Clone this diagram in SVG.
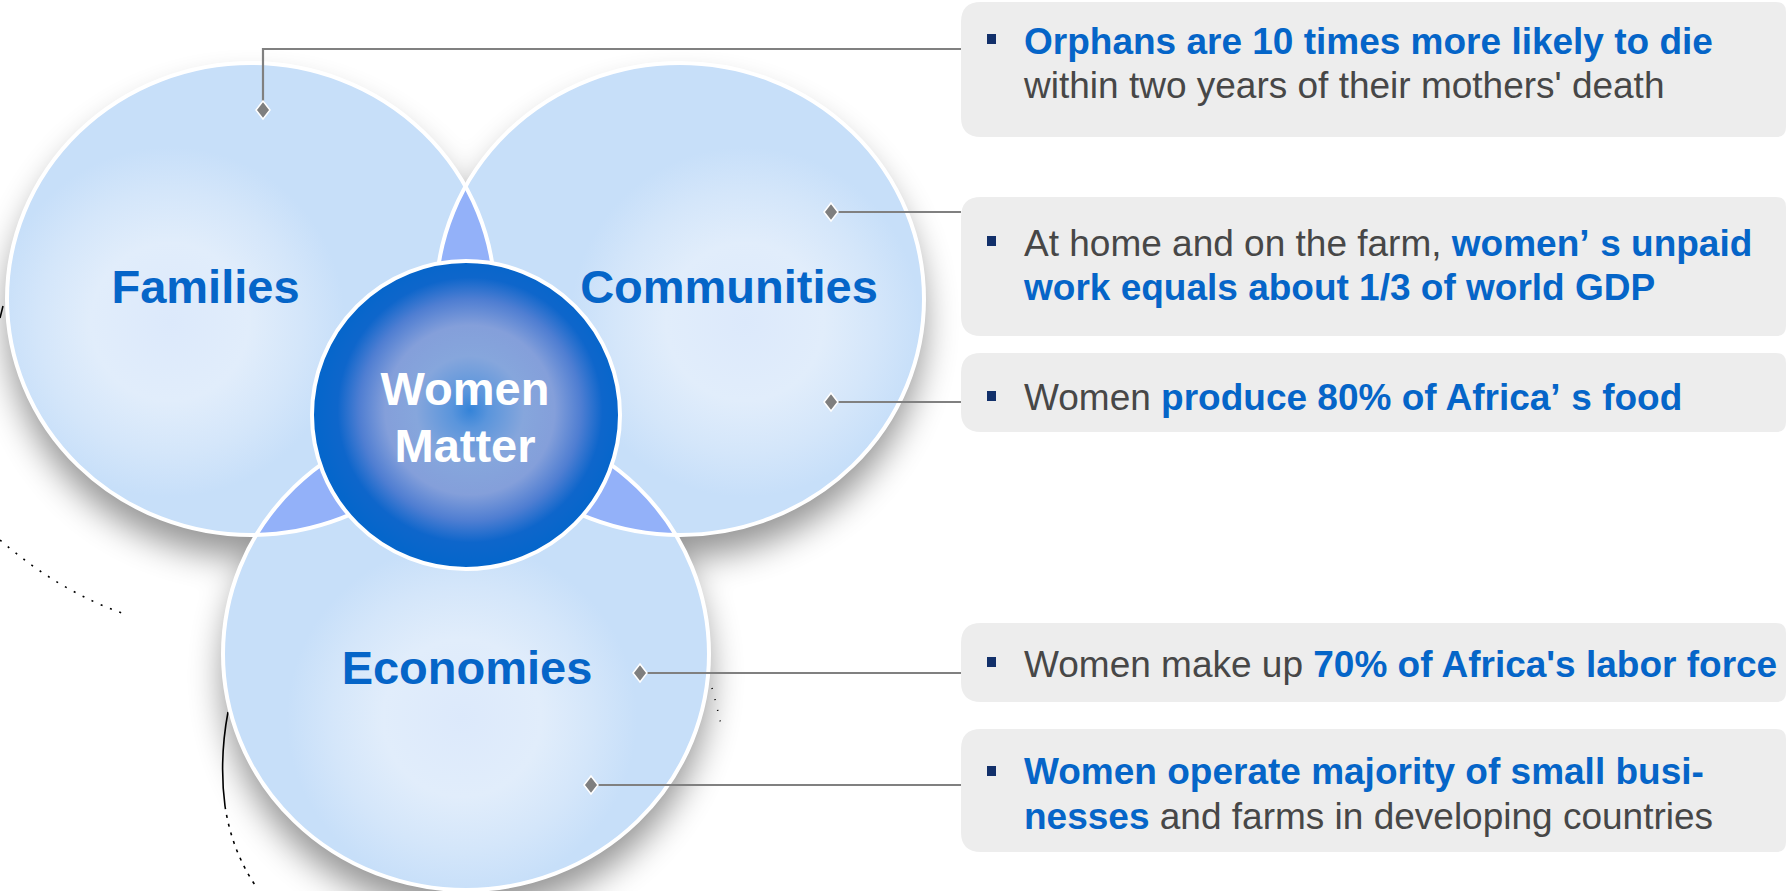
<svg xmlns="http://www.w3.org/2000/svg" xmlns:xlink="http://www.w3.org/1999/xlink" width="1788" height="891" viewBox="0 0 1788 891">
<defs>
<style>
.lbl{font-family:"Liberation Sans",Arial,sans-serif;font-weight:bold;font-size:47px;fill:#0565C8;text-anchor:middle}
.ctr{font-family:"Liberation Sans",Arial,sans-serif;font-weight:bold;font-size:47px;fill:#ffffff;text-anchor:middle}
.t{font-family:"Liberation Sans",Arial,sans-serif;font-size:37px;fill:#474747}
.b{font-weight:bold;fill:#0565C8}
.box{fill:#EDEDED}
.bul{fill:#12306A}
.ring{fill:none;stroke:#ffffff;stroke-width:4}
.lens{fill:#93B1F9}
.con{fill:none;stroke:#808080;stroke-width:2.2}
.art{fill:none;stroke:#000;stroke-width:1.6}
</style>
<filter id="sh" x="-20%" y="-20%" width="140%" height="150%">
<feGaussianBlur in="SourceAlpha" stdDeviation="17"/>
<feOffset dx="0" dy="22"/>
<feComponentTransfer><feFuncA type="linear" slope="0.42"/></feComponentTransfer>
<feMerge><feMergeNode/><feMergeNode in="SourceGraphic"/></feMerge>
</filter>
<radialGradient id="gF" gradientUnits="userSpaceOnUse" cx="170" cy="322" r="175">
<stop offset="0" stop-color="#DCE9FB"/><stop offset="0.45" stop-color="#E1EDFB"/><stop offset="0.75" stop-color="#D4E6FA"/><stop offset="1" stop-color="#C7DFF9"/>
</radialGradient>
<radialGradient id="gC" gradientUnits="userSpaceOnUse" cx="745" cy="322" r="175">
<stop offset="0" stop-color="#DCE9FB"/><stop offset="0.45" stop-color="#E1EDFB"/><stop offset="0.75" stop-color="#D4E6FA"/><stop offset="1" stop-color="#C7DFF9"/>
</radialGradient>
<radialGradient id="gE" gradientUnits="userSpaceOnUse" cx="462" cy="718" r="175">
<stop offset="0" stop-color="#DCE9FB"/><stop offset="0.45" stop-color="#E1EDFB"/><stop offset="0.75" stop-color="#D4E6FA"/><stop offset="1" stop-color="#C7DFF9"/>
</radialGradient>
<radialGradient id="gW" gradientUnits="userSpaceOnUse" cx="470" cy="410" r="154">
<stop offset="0" stop-color="#3483D8"/><stop offset="0.12" stop-color="#5A95DC"/><stop offset="0.35" stop-color="#86A6DC"/><stop offset="0.55" stop-color="#849FDA"/><stop offset="0.72" stop-color="#4F7ED2"/><stop offset="0.86" stop-color="#0E66CB"/><stop offset="1" stop-color="#0566CB"/>
</radialGradient>
<clipPath id="cC"><ellipse cx="680" cy="299" rx="244" ry="236"/></clipPath>
<clipPath id="cE"><ellipse cx="466" cy="654" rx="243" ry="236"/></clipPath>
<path id="dia" d="M0,-9 L7,0 L0,9 L-7,0 Z" fill="#7F7F7F" stroke="#ffffff" stroke-width="1.5"/>
</defs>
<rect width="1788" height="891" fill="#ffffff"/>

<g id="artifacts">
<path class="art" d="M3,306 L0,318"/>
<path class="art" d="M0,540 Q60,592 125,614" stroke-dasharray="2 8" stroke-width="1.3"/>
<path class="art" d="M228,712 Q219,760 225,806" stroke-width="2"/>
<path class="art" d="M225,806 Q232,852 257,888" stroke-dasharray="3 6"/>
<path class="art" d="M712,688 Q718,710 722,730" stroke-dasharray="1 10" stroke-width="0.8"/>
</g>

<g id="discs" filter="url(#sh)">
<ellipse cx="251" cy="299" rx="244" ry="236" fill="url(#gF)"/>
<ellipse cx="680" cy="299" rx="244" ry="236" fill="url(#gC)"/>
<ellipse cx="466" cy="654" rx="243" ry="236" fill="url(#gE)"/>
</g>

<g id="overlaps">
<ellipse class="lens" cx="251" cy="299" rx="244" ry="236" clip-path="url(#cC)"/>
<ellipse class="lens" cx="251" cy="299" rx="244" ry="236" clip-path="url(#cE)"/>
<ellipse class="lens" cx="680" cy="299" rx="244" ry="236" clip-path="url(#cE)"/>
</g>

<g id="families">
<ellipse class="ring" cx="251" cy="299" rx="244" ry="236"/>
<text class="lbl" x="205.5" y="303">Families</text>
</g>
<g id="communities">
<ellipse class="ring" cx="680" cy="299" rx="244" ry="236"/>
<text class="lbl" x="729" y="303">Communities</text>
</g>
<g id="economies">
<ellipse class="ring" cx="466" cy="654" rx="243" ry="236"/>
<text class="lbl" x="467" y="684">Economies</text>
</g>

<g id="women-matter">
<circle cx="466" cy="415" r="154" fill="url(#gW)" stroke="#ffffff" stroke-width="4"/>
<text class="ctr" x="465" y="405">Women</text>
<text class="ctr" x="465" y="462">Matter</text>
</g>

<g id="connectors">
<path class="con" d="M961,49 H263 V110"/>
<use xlink:href="#dia" x="263" y="110"/>
<path class="con" d="M961,212 H831"/>
<use xlink:href="#dia" x="831" y="212"/>
<path class="con" d="M961,402 H831"/>
<use xlink:href="#dia" x="831" y="402"/>
<path class="con" d="M961,673 H640"/>
<use xlink:href="#dia" x="640" y="673"/>
<path class="con" d="M961,785 H591"/>
<use xlink:href="#dia" x="591" y="785"/>
</g>

<g id="box1">
<path class="box" d="M981,2 H1776 Q1786,2 1786,12 V127 Q1786,137 1776,137 H981 Q961,137 961,117 V22 Q961,2 981,2 Z"/>
<rect class="bul" x="987" y="34" width="9" height="10"/>
<text class="t" x="1024" y="54"><tspan class="b">Orphans are 10 times more likely to die</tspan></text>
<text class="t" x="1024" y="98">within two years of their mothers' death</text>
</g>

<g id="box2">
<path class="box" d="M981,197 H1776 Q1786,197 1786,207 V326 Q1786,336 1776,336 H981 Q961,336 961,316 V217 Q961,197 981,197 Z"/>
<rect class="bul" x="987" y="236" width="9" height="10"/>
<text class="t" x="1024" y="256">At home and on the farm, <tspan class="b">women’</tspan><tspan class="b" dx="12">s unpaid</tspan></text>
<text class="t" x="1024" y="300"><tspan class="b">work equals about 1/3 of world GDP</tspan></text>
</g>

<g id="box3">
<path class="box" d="M981,353 H1776 Q1786,353 1786,363 V422 Q1786,432 1776,432 H981 Q961,432 961,412 V373 Q961,353 981,353 Z"/>
<rect class="bul" x="987" y="391" width="9" height="10"/>
<text class="t" x="1024" y="410">Women <tspan class="b">produce 80% of Africa’</tspan><tspan class="b" dx="12">s food</tspan></text>
</g>

<g id="box4">
<path class="box" d="M981,623 H1776 Q1786,623 1786,633 V692 Q1786,702 1776,702 H981 Q961,702 961,682 V643 Q961,623 981,623 Z"/>
<rect class="bul" x="987" y="657" width="9" height="10"/>
<text class="t" x="1024" y="677">Women make up <tspan class="b">70% of Africa's labor force</tspan></text>
</g>

<g id="box5">
<path class="box" d="M981,729 H1776 Q1786,729 1786,739 V842 Q1786,852 1776,852 H981 Q961,852 961,832 V749 Q961,729 981,729 Z"/>
<rect class="bul" x="987" y="766" width="9" height="10"/>
<text class="t" x="1024" y="784"><tspan class="b">Women operate majority of small busi-</tspan></text>
<text class="t" x="1024" y="829"><tspan class="b">nesses</tspan> and farms in developing countries</text>
</g>
</svg>
